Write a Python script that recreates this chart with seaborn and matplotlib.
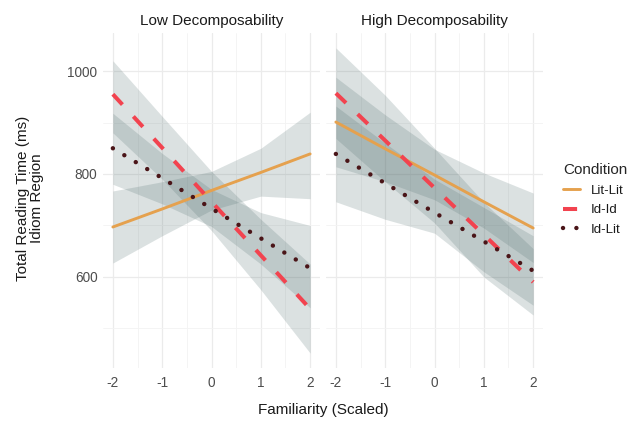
import numpy as np
import pandas as pd
import matplotlib
matplotlib.use("Agg")
import matplotlib.pyplot as plt
from matplotlib.lines import Line2D
from matplotlib.ticker import MultipleLocator
import seaborn as sns

sns.set_theme(style="white")
plt.rcParams['font.family'] = ['Liberation Sans', 'DejaVu Sans']

# ---- data ----
panels = ["Low Decomposability", "High Decomposability"]
conditions = ["Lit-Lit", "Id-Id", "Id-Lit"]
familiarity = [-2, -1, 0, 1, 2]

# Low decomposability
low_litlit_fit = [697, 732, 768, 803, 839]
low_litlit_lo = [627, 680, 730, 757, 752]
low_litlit_hi = [767, 785, 805, 850, 920]
low_idid_fit = [955, 851, 746, 642, 538]
low_idid_lo = [880, 790, 690, 575, 452]
low_idid_hi = [1020, 912, 805, 712, 625]
low_idlit_fit = [850, 792, 733, 675, 617]
low_idlit_lo = [780, 742, 698, 625, 540]
low_idlit_hi = [918, 840, 770, 725, 700]

# High decomposability
high_litlit_fit = [901, 849, 798, 746, 695]
high_litlit_lo = [814, 785, 750, 695, 628]
high_litlit_hi = [988, 915, 848, 802, 763]
high_idid_fit = [957, 865, 773, 682, 590]
high_idid_lo = [869, 785, 705, 600, 526]
high_idid_hi = [1045, 953, 850, 745, 655]
high_idlit_fit = [839, 782, 725, 669, 612]
high_idlit_lo = [746, 712, 685, 610, 545]
high_idlit_hi = [932, 860, 790, 735, 680]

x_ticks = [-2, -1, 0, 1, 2]
x_tick_labels = ["-2", "-1", "0", "1", "2"]
y_ticks = [600, 800, 1000]
y_tick_labels = ["600", "800", "1000"]

rows = []
series = {
    "Low Decomposability": {
        "Lit-Lit": (low_litlit_fit, low_litlit_lo, low_litlit_hi),
        "Id-Id": (low_idid_fit, low_idid_lo, low_idid_hi),
        "Id-Lit": (low_idlit_fit, low_idlit_lo, low_idlit_hi),
    },
    "High Decomposability": {
        "Lit-Lit": (high_litlit_fit, high_litlit_lo, high_litlit_hi),
        "Id-Id": (high_idid_fit, high_idid_lo, high_idid_hi),
        "Id-Lit": (high_idlit_fit, high_idlit_lo, high_idlit_hi),
    },
}
for p in panels:
    for c in conditions:
        fit, lo, hi = series[p][c]
        for xv, f, l, h in zip(familiarity, fit, lo, hi):
            rows.append(dict(Panel=p, Condition=c, Familiarity=xv, fit=f, lo=l, hi=h))
df = pd.DataFrame(rows)

colors = {"Lit-Lit": "#E5A14E", "Id-Id": "#F2434F", "Id-Lit": "#4A1518"}
styles = {
    "Lit-Lit": dict(linestyle="-", linewidth=2.1),
    "Id-Id": dict(linestyle=(0, (3.5, 4.0)), linewidth=2.9),
    "Id-Lit": dict(linestyle=(0, (0.01, 3.0)), linewidth=3.2, dash_capstyle="round"),
}
band_color = "#4d6b6b"

W, H = 636, 422
fig = plt.figure(figsize=(W / 100, H / 100), dpi=100)
fig.patch.set_facecolor("white")

axes_px = [(103, 33, 320, 368), (326, 33, 543, 368)]
for i, (p, (x0, y0, x1, y1)) in enumerate(zip(panels, axes_px)):
    ax = fig.add_axes([x0 / W, 1 - y1 / H, (x1 - x0) / W, (y1 - y0) / H])
    ax.set_facecolor("white")
    sub = df[df.Panel == p]
    for c in conditions:
        s = sub[sub.Condition == c]
        ax.fill_between(s.Familiarity, s.lo, s.hi, color=band_color, alpha=0.2,
                        linewidth=0, zorder=2)
    for c in conditions:
        s = sub[sub.Condition == c]
        sns.lineplot(data=s, x="Familiarity", y="fit", color=colors[c], ax=ax,
                     legend=False, zorder=3, **styles[c])
    ax.set_xlim(-2.2, 2.2)
    ax.set_ylim(423, 1074)
    ax.set_xticks(x_ticks)
    ax.set_xticklabels(x_tick_labels)
    ax.set_yticks(y_ticks)
    if i == 0:
        ax.set_yticklabels(y_tick_labels)
    else:
        ax.set_yticklabels([])
    ax.xaxis.set_minor_locator(MultipleLocator(0.5))
    ax.yaxis.set_minor_locator(MultipleLocator(100))
    ax.grid(True, which="major", color="#EBEBEB", linewidth=0.9, zorder=0)
    ax.grid(True, which="minor", color="#F3F3F3", linewidth=0.6, zorder=0)
    ax.set_axisbelow(True)
    for sp in ax.spines.values():
        sp.set_visible(False)
    ax.tick_params(axis="both", which="both", length=0, labelsize=9.8,
                   labelcolor="#4D4D4D")
    ax.tick_params(axis="x", pad=6)
    ax.tick_params(axis="y", pad=4)
    ax.set_xlabel("")
    ax.set_ylabel("")
    ax.set_title(p, fontsize=11, color="#1A1A1A", pad=6)

fig.text(323 / W, 1 - 410 / H, "Familiarity (Scaled)", ha="center", va="center",
         fontsize=11, color="#1A1A1A")
fig.text(30 / W, 1 - 198 / H, "Total Reading Time (ms)\nIdiom Region", ha="center",
         va="center", rotation=90, fontsize=11, color="#1A1A1A", linespacing=1.0)

handles = [Line2D([0], [0], color=colors[c], **styles[c]) for c in conditions]
leg = fig.legend(handles, conditions, title="Condition", loc="upper left",
                 bbox_to_anchor=(558 / W, 1 - 158 / H), frameon=False,
                 fontsize=9.5, title_fontsize=11, handlelength=1.3,
                 handletextpad=0.8, labelspacing=0.55, borderaxespad=0)
leg._legend_box.align = "left"
for t in leg.get_texts():
    t.set_color("#1A1A1A")

fig.savefig("out.png", dpi=100, facecolor="white")
